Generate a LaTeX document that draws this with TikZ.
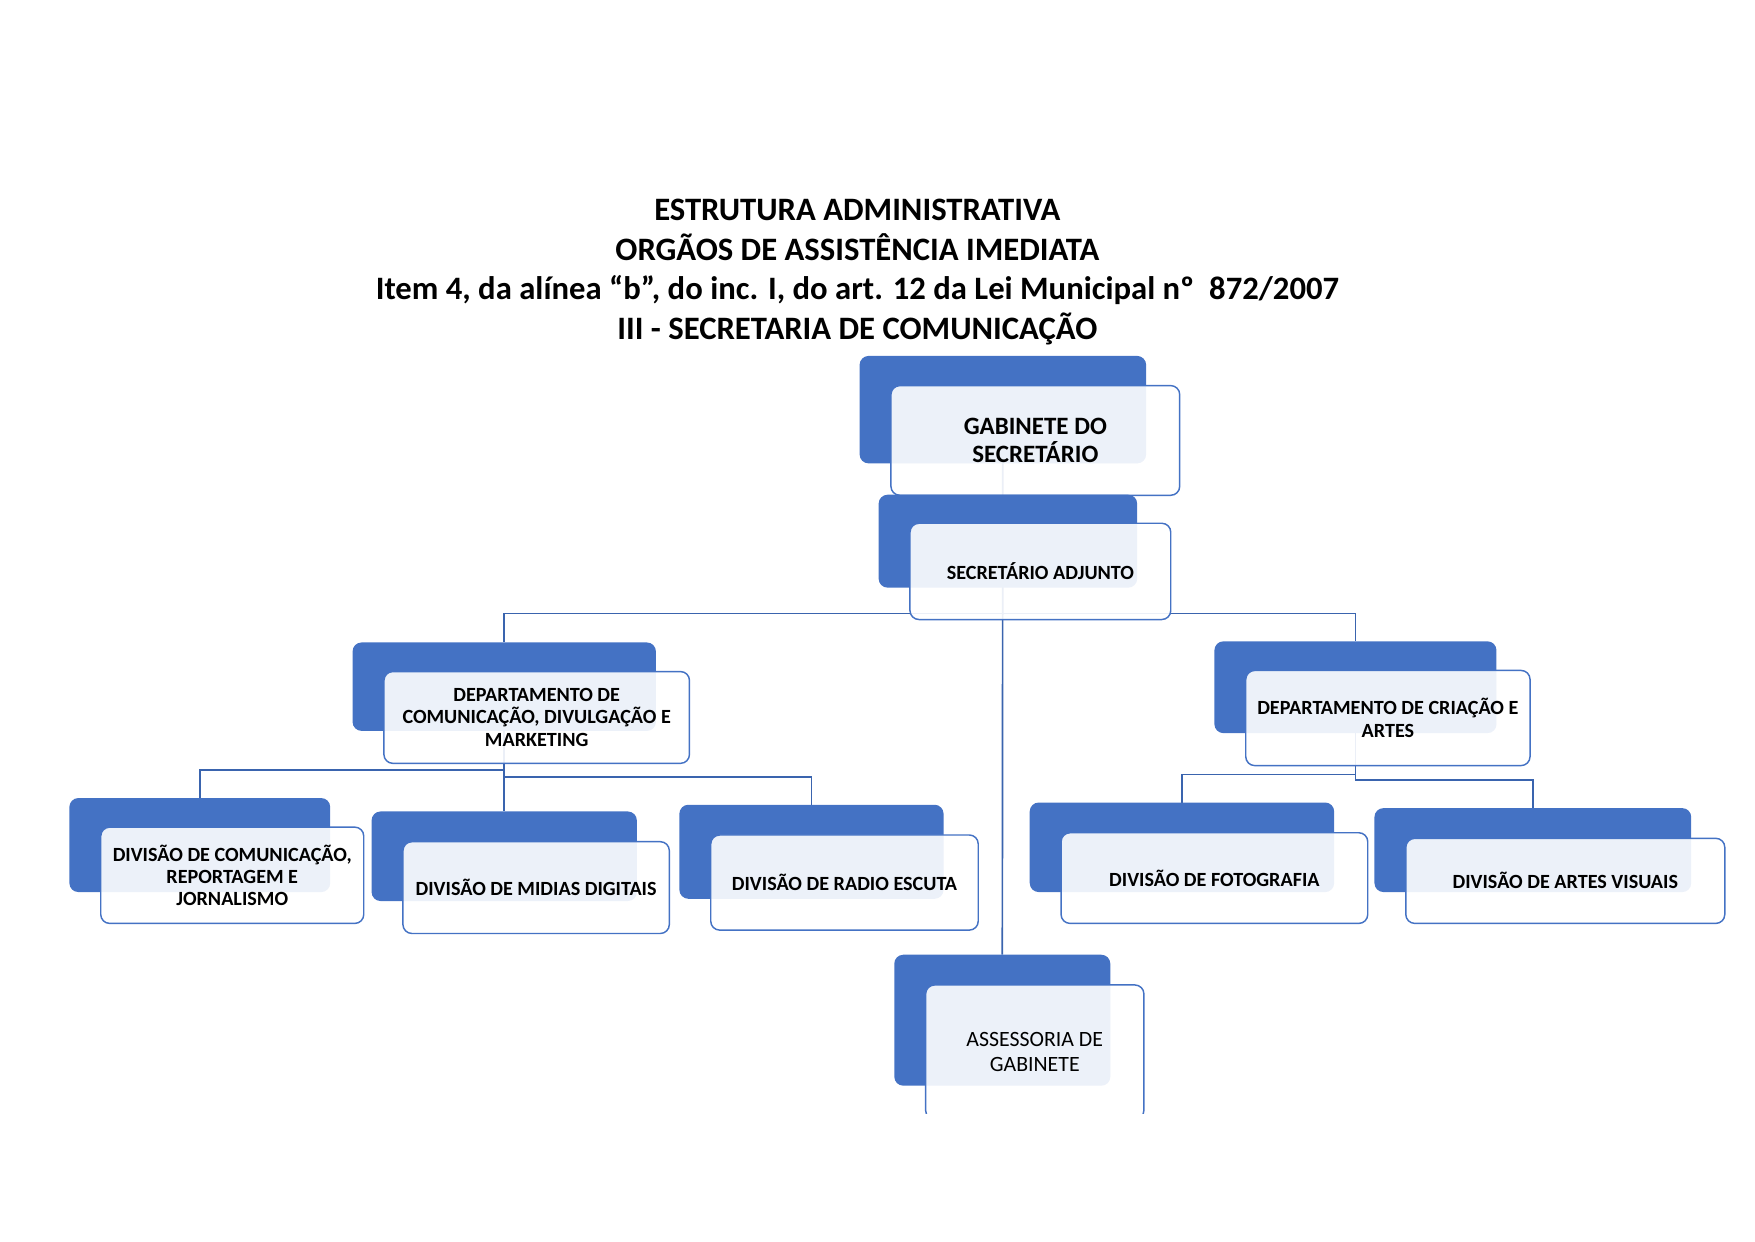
\documentclass[tikz,border=0pt]{standalone}
\usepackage{fontspec}
\setmainfont{Carlito}
\definecolor{myblue}{HTML}{4472C4}
\definecolor{lineblue}{HTML}{3A64AE}
\begin{document}
\begin{tikzpicture}[x=1pt,y=-1pt,
  backbox/.style={fill=myblue, draw=none, rounded corners=8pt, inner sep=0pt},
  frontbox/.style={fill=white, fill opacity=0.9, text opacity=1, draw=myblue, line width=1.3pt,
     rounded corners=8pt, inner sep=0pt, align=center, font=\fontsize{18}{20}\selectfont\bfseries},
  conn/.style={draw=lineblue, line width=1.5pt}]
\useasboundingbox (0,0) rectangle (1568,1109);

% title
\node[align=center, font=\fontsize{29.2}{35.5}\selectfont\bfseries] (title) at (766,243)
 {ESTRUTURA ADMINISTRATIVA\\ORGÃOS DE ASSISTÊNCIA IMEDIATA\\Item 4, da alínea “b”, do inc. I, do art. 12 da Lei Municipal nº\ \ 872/2007\\III - SECRETARIA DE COMUNICAÇÃO};

% centres of the back boxes
\path
 (896,366)    coordinate (gabC)
 (900.5,483.5) coordinate (secC)
 (450.5,613.5) coordinate (dcC)
 (1211,614)   coordinate (daC)
 (178.5,755)  coordinate (d1C)
 (450.5,765)  coordinate (d2C)
 (725,761)    coordinate (d3C)
 (1056,757)   coordinate (d4C)
 (1369.5,759.5) coordinate (d5C)
 (895.5,911.5) coordinate (assC);

% connectors (behind)
\path (gabC |- 0,548) coordinate (j1);
\draw[conn] (gabC) -- (895.5,853);
\draw[conn] (j1) -| (450.5,574);
\draw[conn] (j1) -| (1211,573);

\draw[conn] (dcC) -- (450.5,725);
\draw[conn] (dcC |- 0,688) -| (178.5,713);
\draw[conn] (dcC |- 0,694) -| (725,719);

\draw[conn] (daC) -- (daC |- 0,697);
\draw[conn] (daC |- 0,692) -| (1056,717);
\draw[conn] (daC |- 0,697) -| (1369.5,722);

% boxes
\node[backbox, minimum width=256pt, minimum height=96pt] (gabB) at (gabC) {};
\node[frontbox, minimum width=258pt, minimum height=98pt, font=\fontsize{22.3}{25}\selectfont\bfseries] (gab) at (925,393.5) {GABINETE DO\\SECRETÁRIO};

\node[backbox, minimum width=231pt, minimum height=83pt] (secB) at (secC) {};
\node[frontbox, minimum width=233pt, minimum height=86pt] (sec) at (929.5,510.5) {SECRETÁRIO ADJUNTO};

\node[backbox, minimum width=271pt, minimum height=79pt] (dcB) at (dcC) {};
\node[frontbox, minimum width=273pt, minimum height=82pt] (dc) at (479.5,641) {DEPARTAMENTO DE\\COMUNICAÇÃO, DIVULGAÇÃO E\\MARKETING};

\node[backbox, minimum width=252pt, minimum height=82pt] (daB) at (daC) {};
\node[frontbox, minimum width=254pt, minimum height=85pt] (da) at (1240,641.5) {DEPARTAMENTO DE CRIAÇÃO E\\ARTES};

\node[backbox, minimum width=233pt, minimum height=84pt] (d1B) at (d1C) {};
\node[frontbox, minimum width=235pt, minimum height=86pt] (d1) at (207.5,782) {DIVISÃO DE COMUNICAÇÃO,\\REPORTAGEM E\\JORNALISMO};

\node[backbox, minimum width=237pt, minimum height=80pt] (d2B) at (d2C) {};
\node[frontbox, minimum width=238pt, minimum height=82pt] (d2) at (479,793) {DIVISÃO DE MIDIAS DIGITAIS};

\node[backbox, minimum width=236pt, minimum height=84pt] (d3B) at (d3C) {};
\node[frontbox, minimum width=239pt, minimum height=85pt] (d3) at (754.5,788.5) {DIVISÃO DE RADIO ESCUTA};

\node[backbox, minimum width=272pt, minimum height=80pt] (d4B) at (d4C) {};
\node[frontbox, minimum width=274pt, minimum height=81pt] (d4) at (1085,784.5) {DIVISÃO DE FOTOGRAFIA};

\node[backbox, minimum width=283pt, minimum height=75pt] (d5B) at (d5C) {};
\node[frontbox, minimum width=285pt, minimum height=76pt] (d5) at (1398.5,787) {DIVISÃO DE ARTES VISUAIS};

\begin{scope}
\clip (0,0) rectangle (1568,995);
\node[backbox, minimum width=193pt, minimum height=117pt] (assB) at (assC) {};
\node[frontbox, minimum width=195pt, minimum height=120pt, font=\fontsize{19.5}{22}\selectfont] (ass) at (924.5,940) {ASSESSORIA DE\\GABINETE};
\end{scope}
\end{tikzpicture}
\end{document}
